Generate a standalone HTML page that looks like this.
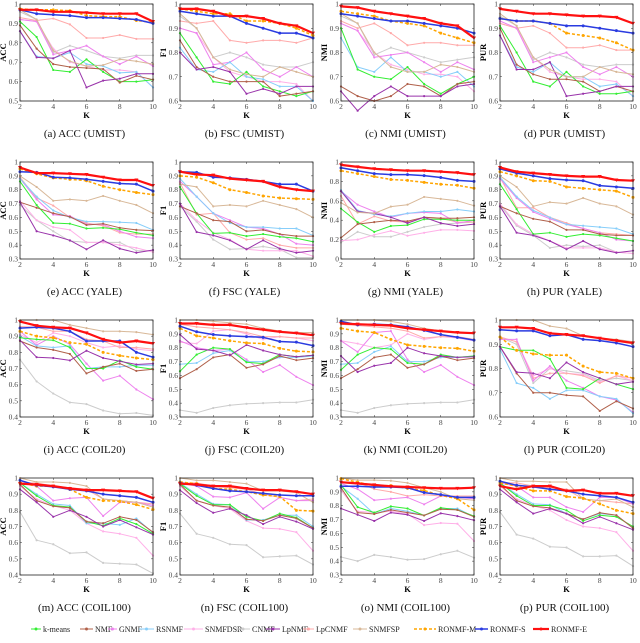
<!DOCTYPE html>
<html><head><meta charset="utf-8"><style>
body{margin:0;background:#fff;}
svg{display:block;}
svg text{font-family:"Liberation Serif","Times New Roman",serif;}
</style></head><body>
<svg id="chart" width="640" height="643" viewBox="0 0 640 643"></svg>
<script>
const kValues=[2,3,4,5,6,7,8,9,10];
const seriesNames=["k-means","NMF","GNMF","RSNMF","SNMFDSR","CNMF","LpNMF","LpCNMF","SNMFSP","RONMF-M","RONMF-S","RONMF-E"];
const captions=["(a) ACC (UMIST)","(b) FSC (UMIST)","(c) NMI (UMIST)","(d) PUR (UMIST)","(e) ACC (YALE)","(f) FSC (YALE)","(g) NMI (YALE)","(h) PUR (YALE)","(i) ACC (COIL20)","(j) FSC (COIL20)","(k) NMI (COIL20)","(l) PUR (COIL20)","(m) ACC (COIL100)","(n) FSC (COIL100)","(o) NMI (COIL100)","(p) PUR (COIL100)"];
const yLabels=["ACC","F1","NMI","PUR"];
const yMins=[0.5,0.6,0.6,0.6,0.3,0.3,0,0.3,0.4,0.3,0.3,0.6,0.4,0.4,0.3,0.4];
const yMaxs=[1,1,1,1,1,1,1,1,1,1,1,1,1,1,1,1];
const ySteps=[0.1,0.1,0.1,0.1,0.1,0.1,0.2,0.1,0.1,0.1,0.1,0.1,0.1,0.1,0.1,0.1];
const accUmist=[[.91,.83,.66,.65,.715,.65,.60,.60,.61],[.89,.77,.69,.675,.67,.665,.595,.63,.61],[.92,.91,.74,.76,.785,.73,.69,.73,.68],[.86,.73,.72,.75,.69,.68,.645,.65,.57],[.92,.91,.77,.70,.68,.66,.66,.65,.57],[.96,.92,.75,.785,.76,.73,.72,.735,.735],[.86,.725,.72,.76,.57,.605,.615,.64,.64],[.93,.915,.925,.895,.825,.825,.84,.82,.82],[.97,.92,.76,.705,.68,.685,.715,.705,.69],[.975,.97,.97,.965,.94,.935,.935,.915,.905],[.97,.95,.945,.94,.93,.93,.925,.92,.90],[.97,.97,.96,.96,.955,.95,.95,.95,.91]];
const fscUmist=[[.88,.78,.68,.67,.72,.66,.64,.62,.64],[.85,.74,.70,.68,.68,.68,.62,.63,.64],[.90,.88,.75,.76,.80,.73,.70,.74,.70],[.82,.73,.72,.76,.70,.69,.66,.66,.60],[.90,.88,.78,.72,.70,.68,.68,.67,.60],[.95,.90,.78,.80,.78,.75,.74,.74,.76],[.80,.73,.74,.72,.63,.65,.63,.66,.66],[.93,.92,.93,.85,.84,.85,.85,.84,.86],[.96,.90,.78,.73,.71,.70,.74,.72,.70],[.98,.97,.96,.96,.93,.93,.92,.90,.87],[.97,.96,.95,.95,.92,.90,.88,.88,.86],[.98,.98,.97,.95,.95,.94,.92,.91,.88]];
const nmiUmist=[[.90,.73,.70,.69,.74,.67,.63,.67,.70],[.66,.62,.60,.62,.67,.66,.62,.67,.68],[.92,.89,.78,.79,.80,.76,.72,.76,.73],[.86,.74,.72,.78,.72,.72,.70,.72,.66],[.92,.89,.80,.75,.73,.71,.71,.70,.64],[.95,.92,.79,.82,.80,.78,.76,.77,.78],[.64,.56,.62,.66,.62,.62,.62,.66,.67],[.93,.90,.92,.88,.83,.84,.84,.83,.83],[.96,.92,.80,.74,.72,.72,.75,.74,.72],[.97,.96,.95,.93,.92,.91,.88,.86,.84],[.96,.95,.94,.93,.93,.92,.91,.90,.88],[.99,.985,.97,.96,.95,.94,.92,.91,.86]];
const purUmist=[[.91,.80,.68,.66,.72,.66,.63,.63,.64],[.90,.75,.71,.69,.69,.68,.64,.66,.64],[.93,.90,.76,.78,.80,.74,.71,.74,.70],[.87,.74,.72,.76,.70,.70,.66,.67,.62],[.92,.90,.78,.72,.70,.69,.69,.68,.62],[.95,.91,.77,.80,.78,.75,.74,.75,.75],[.87,.73,.73,.76,.62,.63,.64,.66,.66],[.92,.90,.91,.88,.82,.82,.83,.81,.81],[.96,.91,.78,.73,.70,.70,.74,.72,.71],[.94,.93,.93,.92,.88,.87,.86,.84,.81],[.94,.93,.93,.92,.91,.91,.90,.89,.88],[.98,.97,.96,.96,.955,.95,.95,.945,.92]];
const accYale=[[.86,.69,.56,.555,.52,.525,.515,.49,.47],[.71,.67,.63,.605,.545,.555,.525,.51,.505],[.88,.73,.62,.61,.55,.55,.50,.46,.45],[.88,.75,.65,.60,.57,.57,.565,.56,.51],[.72,.58,.53,.51,.42,.42,.40,.38,.35],[.69,.58,.50,.43,.42,.42,.42,.36,.36],[.71,.50,.47,.435,.37,.435,.375,.345,.365],[.89,.74,.685,.60,.56,.54,.49,.48,.48],[.90,.82,.72,.73,.72,.755,.72,.69,.63],[.95,.915,.885,.875,.865,.825,.80,.78,.765],[.93,.925,.89,.885,.875,.86,.845,.84,.79],[.96,.92,.92,.915,.91,.89,.87,.87,.83]];
const fscYale=[[.82,.63,.485,.49,.465,.48,.46,.45,.425],[.68,.63,.58,.57,.50,.51,.48,.465,.465],[.86,.75,.63,.58,.53,.52,.48,.41,.40],[.88,.75,.63,.56,.53,.53,.52,.52,.47],[.70,.58,.49,.44,.37,.36,.36,.36,.32],[.68,.57,.44,.37,.375,.39,.37,.31,.31],[.70,.495,.47,.435,.37,.435,.375,.345,.36],[.85,.62,.63,.49,.44,.45,.40,.38,.38],[.84,.82,.68,.69,.68,.72,.69,.66,.60],[.90,.89,.85,.80,.78,.755,.74,.735,.73],[.93,.925,.89,.885,.875,.86,.84,.84,.79],[.93,.91,.905,.88,.87,.86,.82,.80,.79]];
const nmiYale=[[.52,.38,.28,.34,.35,.41,.41,.40,.40],[.22,.36,.38,.40,.39,.43,.42,.42,.43],[.70,.56,.49,.43,.47,.48,.47,.37,.40],[.71,.50,.46,.44,.47,.49,.49,.51,.49],[.19,.20,.25,.29,.24,.27,.30,.30,.29],[.17,.28,.23,.23,.28,.33,.36,.37,.38],[.70,.49,.47,.43,.37,.43,.37,.34,.36],[.65,.36,.44,.39,.38,.43,.42,.38,.38],[.58,.48,.47,.54,.56,.64,.62,.60,.55],[.91,.88,.85,.82,.81,.79,.77,.76,.73],[.94,.91,.88,.87,.87,.86,.84,.81,.80],[.97,.95,.93,.92,.91,.91,.90,.89,.87]];
const purYale=[[.84,.66,.48,.49,.46,.48,.47,.45,.43],[.68,.63,.59,.57,.51,.51,.48,.47,.47],[.88,.74,.64,.59,.55,.52,.49,.44,.43],[.89,.75,.65,.60,.55,.54,.53,.52,.48],[.70,.55,.48,.43,.38,.38,.38,.35,.34],[.69,.54,.47,.38,.40,.39,.40,.35,.34],[.68,.49,.47,.43,.37,.43,.37,.345,.36],[.89,.67,.67,.60,.56,.52,.49,.48,.47],[.90,.82,.68,.71,.70,.74,.70,.68,.62],[.93,.90,.865,.86,.82,.81,.80,.79,.745],[.95,.92,.90,.88,.87,.865,.83,.82,.81],[.96,.93,.92,.91,.90,.895,.895,.87,.865]];
const accCoil20=[[.89,.88,.875,.83,.70,.70,.75,.71,.695],[.87,.83,.815,.79,.67,.71,.73,.685,.695],[.93,.845,.90,.85,.73,.625,.655,.57,.51],[.90,.84,.83,.84,.70,.71,.71,.72,.72],[.91,.86,.92,.90,.86,.83,.84,.82,.81],[.755,.62,.545,.49,.48,.44,.42,.425,.41],[.875,.77,.765,.75,.81,.765,.745,.725,.73],[.96,.955,.93,.93,.88,.87,.83,.83,.82],[1.0,1.0,1.0,.97,.95,.93,.93,.925,.91],[.93,.90,.89,.86,.85,.80,.78,.765,.755],[.95,.955,.95,.93,.87,.87,.87,.80,.77],[.99,.965,.955,.95,.92,.88,.86,.87,.855]];
const fscCoil20=[[.63,.75,.80,.79,.695,.685,.75,.735,.745],[.58,.645,.73,.75,.655,.68,.74,.71,.725],[.85,.80,.78,.79,.715,.625,.675,.59,.53],[.68,.69,.76,.78,.70,.70,.73,.73,.74],[.84,.83,.92,.93,.90,.86,.88,.87,.85],[.35,.33,.365,.385,.395,.40,.405,.405,.425],[.895,.79,.78,.745,.82,.78,.75,.735,.745],[.97,.95,.94,.93,.91,.88,.88,.87,.87],[1.0,1.0,.99,.98,.97,.94,.92,.91,.91],[.94,.885,.87,.85,.835,.83,.795,.775,.77],[.955,.915,.895,.885,.88,.875,.845,.84,.815],[.975,.975,.965,.965,.945,.93,.915,.905,.89]];
const nmiCoil20=[[.64,.75,.80,.79,.69,.68,.75,.73,.74],[.58,.645,.73,.75,.655,.68,.74,.71,.725],[.85,.77,.91,.92,.715,.625,.675,.59,.53],[.68,.69,.77,.81,.70,.70,.73,.73,.74],[.85,.83,.80,.82,.90,.86,.88,.87,.85],[.35,.33,.365,.385,.395,.40,.405,.405,.425],[.74,.625,.67,.69,.80,.76,.74,.73,.735],[.97,.96,.95,.94,.92,.87,.88,.88,.86],[1.0,1.0,1.0,.99,.97,.94,.92,.91,.91],[.94,.92,.91,.86,.82,.81,.80,.795,.775],[.99,.965,.97,.965,.95,.925,.895,.875,.855],[.975,.97,.965,.96,.94,.93,.92,.91,.905]];
const purCoil20=[[.89,.875,.875,.84,.72,.715,.76,.735,.715],[.89,.78,.70,.70,.69,.685,.625,.665,.635],[.92,.92,.75,.81,.75,.72,.685,.67,.62],[.88,.74,.72,.675,.71,.71,.685,.675,.615],[.93,.91,.77,.80,.78,.775,.745,.77,.75],[.93,.90,.74,.80,.79,.78,.75,.76,.75],[.89,.785,.78,.76,.825,.785,.76,.735,.745],[.93,.91,.76,.78,.78,.77,.74,.77,.76],[1,1,1,.975,.965,.935,.925,.92,.91],[.93,.875,.86,.855,.855,.81,.785,.78,.76],[.96,.955,.955,.935,.94,.92,.915,.905,.89],[.97,.97,.965,.945,.94,.935,.925,.915,.905]];
const accCoil100=[[.97,.89,.83,.82,.73,.705,.75,.715,.655],[.96,.86,.825,.815,.73,.72,.76,.74,.665],[.97,.95,.86,.875,.88,.765,.85,.85,.83],[.97,.90,.84,.83,.72,.72,.71,.75,.66],[.95,.87,.83,.80,.72,.67,.655,.63,.52],[.79,.615,.59,.535,.54,.475,.47,.465,.41],[.93,.85,.76,.80,.76,.70,.74,.695,.65],[.97,.97,.95,.94,.93,.87,.86,.85,.84],[1.0,.975,.975,.97,.95,.87,.86,.85,.82],[.97,.95,.95,.93,.88,.86,.855,.835,.805],[.985,.955,.945,.93,.92,.90,.89,.88,.85],[.965,.96,.95,.935,.925,.925,.92,.915,.875]];
const fscCoil100=[[.965,.89,.835,.835,.76,.735,.78,.755,.69],[.96,.86,.83,.82,.745,.735,.77,.75,.69],[.97,.95,.885,.88,.91,.81,.88,.86,.86],[.97,.90,.84,.835,.74,.74,.77,.77,.70],[.95,.86,.83,.81,.735,.69,.685,.665,.55],[.78,.655,.63,.59,.585,.51,.515,.52,.465],[.925,.845,.785,.81,.77,.715,.76,.73,.685],[.97,.97,.95,.94,.93,.90,.88,.86,.87],[1.0,.985,.985,.975,.965,.92,.92,.91,.85],[.975,.965,.935,.93,.915,.895,.885,.80,.795],[.97,.955,.935,.92,.915,.905,.895,.89,.89],[.965,.96,.95,.95,.935,.925,.925,.915,.90]];
const nmiCoil100=[[.95,.79,.75,.795,.78,.73,.785,.77,.725],[.93,.75,.74,.77,.75,.73,.775,.77,.72],[.96,.92,.84,.85,.86,.81,.87,.86,.85],[.94,.85,.74,.78,.76,.73,.78,.78,.72],[.91,.76,.75,.76,.74,.66,.675,.67,.545],[.43,.40,.445,.43,.41,.415,.45,.475,.425],[.78,.735,.69,.75,.735,.69,.745,.725,.695],[.97,.97,.92,.90,.87,.88,.87,.87,.87],[1.0,.985,.985,.98,.965,.93,.90,.85,.84],[.995,.97,.945,.945,.925,.91,.875,.85,.77],[.94,.94,.935,.935,.93,.895,.88,.86,.86],[.97,.96,.95,.94,.935,.93,.925,.925,.93]];
const purCoil100=[[.97,.89,.83,.83,.80,.735,.77,.76,.70],[.96,.86,.825,.815,.78,.745,.785,.77,.69],[.97,.95,.88,.88,.82,.79,.88,.88,.84],[.97,.90,.84,.835,.78,.745,.78,.77,.69],[.95,.87,.83,.80,.74,.70,.69,.665,.55],[.79,.65,.625,.575,.57,.515,.515,.52,.455],[.93,.85,.78,.81,.78,.72,.76,.72,.68],[.97,.97,.95,.94,.93,.87,.86,.85,.84],[1.0,.98,.98,.975,.975,.87,.86,.87,.82],[.97,.95,.92,.92,.885,.875,.84,.80,.78],[.98,.955,.945,.93,.92,.90,.89,.88,.85],[.95,.93,.95,.95,.92,.925,.905,.905,.89]];
const panels=[accUmist,fscUmist,nmiUmist,purUmist,accYale,fscYale,nmiYale,purYale,accCoil20,fscCoil20,nmiCoil20,purCoil20,accCoil100,fscCoil100,nmiCoil100,purCoil100];

const colors=["#33ee33","#b0604a","#ee82ee","#87cefa","#ffb0e8","#cccccc","#9933aa","#ffaaaa","#d8b898","#ffa500","#2a3be0","#ff1010"];
const widths=[1,1,1,1,1,1,1,1,1,1.5,1.5,2.2];
const NS="http://www.w3.org/2000/svg";
const FONT='"Liberation Serif", serif';
const svg=document.getElementById('chart');
function mk(tag,attrs,parent){const e=document.createElementNS(NS,tag);for(const k in attrs)e.setAttribute(k,attrs[k]);if(tag==='text')e.setAttribute('font-family',FONT);(parent||svg).appendChild(e);return e;}
const colX=[20,180,341,500], rowY=[4,162,320,478], PW=133, PH=97;
const drawOrder=[5,4,7,2,3,0,1,6,8,9,10,11];
panels.forEach((data,p)=>{
  const r=Math.floor(p/4), c=p%4, x0=colX[c], y0=rowY[r];
  const lo=yMins[p], hi=yMaxs[p];
  const xs=k=>x0+(k-2)/8*PW;
  const ys=v=>y0+PH-(v-lo)/(hi-lo)*PH;
  const g=mk('g',{});
  
  
  mk('rect',{x:x0,y:y0,width:PW,height:PH,fill:'#fff',stroke:'none'},g);
  const nT=Math.round((hi-lo)/ySteps[p]);
  for(let i=0;i<=nT;i++){const v=lo+i*ySteps[p];const y=ys(v);
    mk('line',{x1:x0,x2:x0+2,y1:y,y2:y,stroke:'#333','stroke-width':0.5},g);
    mk('line',{x1:x0+PW-2,x2:x0+PW,y1:y,y2:y,stroke:'#333','stroke-width':0.5},g);
    const t=mk('text',{x:x0-2,y:y+2.5,'font-size':7.5,'text-anchor':'end',fill:'#444'},g);
    t.textContent=(Math.abs(v-1)<1e-6)?'1':(Math.abs(v)<1e-6?'0':v.toFixed(1));}
  [2,4,6,8,10].forEach(k=>{const x=xs(k);
    mk('line',{x1:x,x2:x,y1:y0+PH,y2:y0+PH-2,stroke:'#333','stroke-width':0.5},g);
    mk('line',{x1:x,x2:x,y1:y0,y2:y0+2,stroke:'#333','stroke-width':0.5},g);
    const t=mk('text',{x:x,y:y0+PH+8,'font-size':7.5,'text-anchor':'middle',fill:'#444'},g);t.textContent=k;});
  const kl=mk('text',{x:x0+PW/2,y:y0+PH+17,'font-size':8.5,'font-weight':'bold','text-anchor':'middle'},g);kl.textContent='K';
  
  const yl=mk('text',{x:0,y:0,'font-size':8.5,'font-weight':'bold','text-anchor':'middle',transform:`translate(${x0-14},${y0+PH/2}) rotate(-90)`},g);yl.textContent=yLabels[c];
  
  drawOrder.forEach(s=>{
    const vals=data[s];
    const pts=vals.map((v,i)=>xs(kValues[i]).toFixed(1)+','+ys(v).toFixed(1)).join(' ');
    const pl=mk('polyline',{points:pts,fill:'none',stroke:colors[s],'stroke-width':widths[s],'stroke-dasharray':s===9?'3,2':'none','stroke-linejoin':'round'},g);
    
    
    vals.forEach((v,i)=>{const x=xs(kValues[i]),y=ys(v);
      if(s===11){mk('path',{d:`M${x-2},${y-1.5}L${x+2},${y-1.5}L${x},${y+2}Z`,fill:colors[s]},g);}
      else mk('circle',{cx:x,cy:y,r:s>=9?1.5:1.1,fill:colors[s]},g);});
  });
  mk('rect',{x:x0,y:y0,width:PW,height:PH,fill:'none',stroke:'#222','stroke-width':0.8},g);
  const cap=mk('text',{x:x0+PW/2-2,y:y0+133,'font-size':11,'text-anchor':'middle',fill:'#111'},g);cap.textContent=captions[p];
  
});
const legX=[31,80,108,139,184,236,266,303,353,414,475,533];
const legT=[43,95,119,156,205,252,282,316,369,438,490,551];
const lg=mk('g',{});


seriesNames.forEach((n,s)=>{
  const y=632;
  const e=mk('g',{},lg);
  
  
  mk('line',{x1:legX[s],x2:legT[s]-2,y1:y-3,y2:y-3,stroke:colors[s],'stroke-width':widths[s],'stroke-dasharray':s===9?'3,2':'none'},e);
  mk('circle',{cx:(legX[s]+legT[s]-2)/2,cy:y-3,r:1.5,fill:colors[s]},e);
  const t=mk('text',{x:legT[s],y:y,'font-size':8,fill:'#222'},e);t.textContent=n;
});
</script>
</body></html>
